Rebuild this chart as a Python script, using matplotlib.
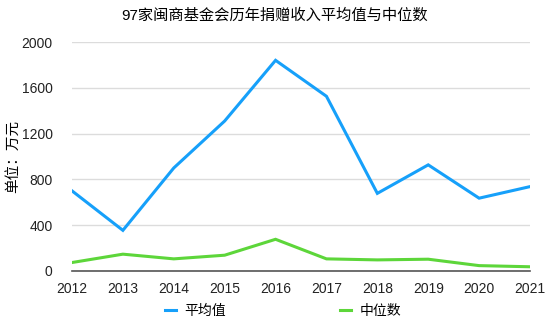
import matplotlib
matplotlib.use("Agg")
import matplotlib.pyplot as plt

plt.rcParams['font.family'] = ['Liberation Sans', 'Noto Sans CJK SC']

years = ["2012", "2013", "2014", "2015", "2016", "2017", "2018", "2019", "2020", "2021"]
mean_vals = [700, 355, 900, 1310, 1840, 1526, 678, 927, 636, 737]
median_vals = [74, 147, 106, 138, 277, 106, 97, 103, 47, 37]
yticks = [0, 400, 800, 1200, 1600, 2000]

blue = "#16A0FA"
green = "#5DD63A"

fig = plt.figure(figsize=(5.5, 3.25), dpi=100)
ax = fig.add_axes([72 / 550, 1 - 271 / 325, 458 / 550, 229 / 325])

x = list(range(len(years)))
ax.plot(x, mean_vals, color=blue, lw=2.2, label="平均值", solid_joinstyle="miter")
ax.plot(x, median_vals, color=green, lw=2.2, label="中位数", solid_joinstyle="miter")

ax.set_xlim(0, len(years) - 1)
ax.set_ylim(0, 2000)
ax.set_xticks(x)
ax.set_xticklabels(years, fontsize=10)
ax.set_yticks(yticks)
ax.set_yticklabels([str(v) for v in yticks], fontsize=10)
ax.tick_params(axis="both", length=0, colors="#222222")
ax.tick_params(axis="x", pad=8)
ax.tick_params(axis="y", pad=14)
ax.grid(axis="y", color="#dcdcdc", lw=1)
ax.set_axisbelow(True)
for side in ["top", "right", "left"]:
    ax.spines[side].set_visible(False)
ax.spines["bottom"].set_color("#555555")
ax.spines["bottom"].set_linewidth(1.2)

fig.text(13 / 550, 1 - 156 / 325, "单位：万元", rotation=90,
         ha="center", va="center", fontsize=10.5)
fig.text(0.5, 1 - 16 / 325, "97家闽商基金会历年捐赠收入平均值与中位数",
         ha="center", va="center", fontsize=11)

fig.legend(loc="center", bbox_to_anchor=(0.515, 1 - 311 / 325), ncol=2,
           frameon=False, fontsize=10, handlelength=0.8, handletextpad=0.6,
           columnspacing=8.2)

fig.savefig("out.png", dpi=100)
